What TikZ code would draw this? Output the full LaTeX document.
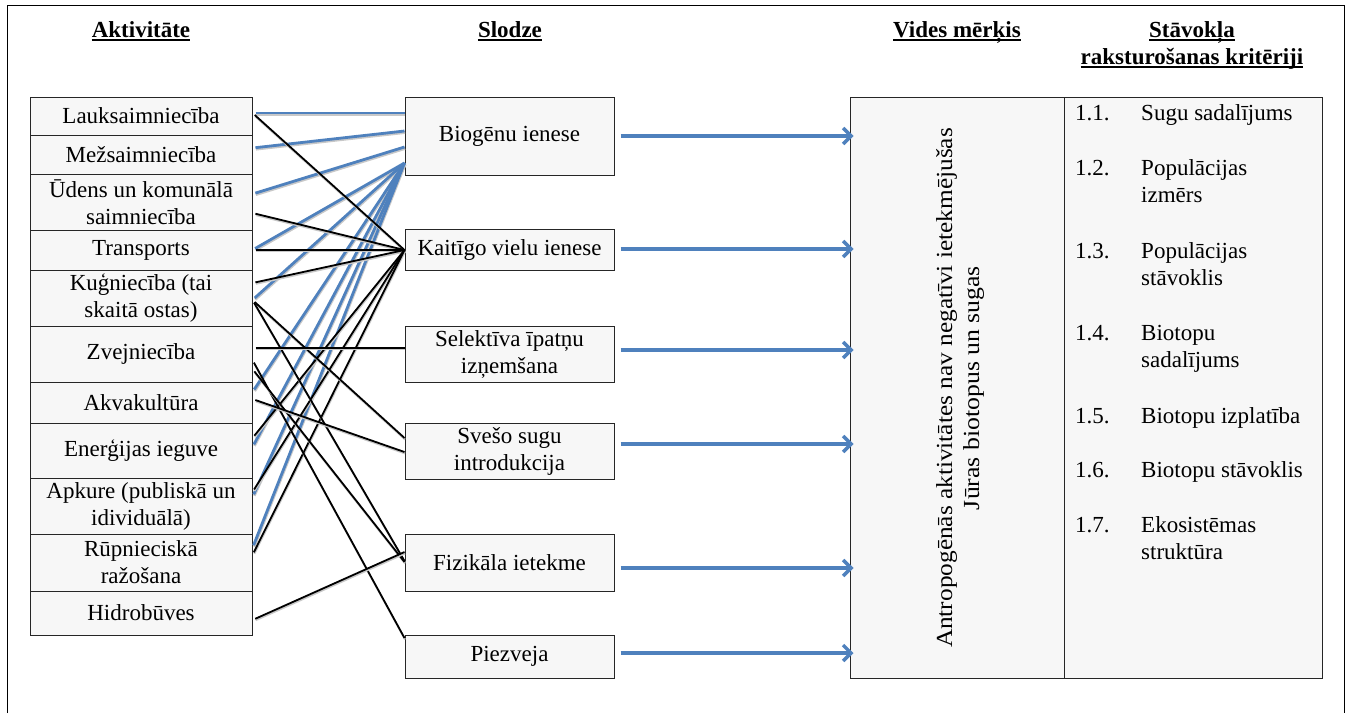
\documentclass[tikz,border=0pt]{standalone}
\usepackage{fontspec}
\usepackage{graphicx}
\setmainfont{Liberation Serif}
\usetikzlibrary{arrows.meta}
\definecolor{bluel}{RGB}{79,129,189}
\definecolor{boxfill}{RGB}{247,247,247}
\definecolor{shad}{RGB}{200,200,200}
\begin{document}
\begin{tikzpicture}[x=1pt,y=-1pt, font=\fontsize{23}{27}\selectfont,
  box/.style={draw=black!85, fill=boxfill, line width=1pt, inner sep=0pt, align=center, minimum width=222pt},
  mbox/.style={box, minimum width=209pt},
  bigbox/.style={draw=black!85, fill=boxfill, line width=1pt, inner sep=0pt, minimum height=581pt},
  bl/.style={draw=bluel, line width=2.8pt, shorten <=3pt, preaction={draw=shad, line width=2.8pt, transform canvas={xshift=0.5pt,yshift=-1.5pt}}},
  bk/.style={draw=black, line width=1.8pt, shorten <=3pt, preaction={draw=shad, line width=1.8pt, transform canvas={xshift=0.5pt,yshift=-1.5pt}}},
  arr/.style={draw=bluel, line width=3.4pt, shorten <=6pt, shorten >=-4pt, -{Straight Barb[length=8pt,width=16pt,line width=3.4pt]}},
  hdr/.style={font=\fontsize{23}{27}\selectfont\bfseries, inner sep=0pt, anchor=base},
  uline/.style={line width=1.1pt},
  crit/.style={inner sep=0pt, anchor=base west}]
\useasboundingbox (0,0) rectangle (1348,713);
% outer frame
\draw[line width=1pt] (7,713) -- (7,5) -- (1344,5) -- (1344,713);

% headers
\node[hdr] (h1) at (141,37) {Aktivitāte};
\node[hdr] (h2) at (510,37) {Slodze};
\node[hdr] (h3) at (957,37) {Vides mērķis};
\node[hdr] (h4) at (1192,37) {Stāvokļa};
\node[hdr] (h5) at (1192,64) {raksturošanas kritēriji};
\foreach \h in {h1,h2,h3,h4,h5}
  \draw[uline] ([yshift=-3pt]\h.base west) -- ([yshift=-3pt]\h.base east);

% left column
\node[box, minimum height=38pt] (lauk) at (141,116) {Lauksaimniecība};
\node[box, minimum height=39pt] (mez) at (141,154.5) {Mežsaimniecība};
\node[box, minimum height=56pt] (udens) at (141,202) {Ūdens un komunālā\\saimniecība};
\node[box, minimum height=40pt] (transp) at (141,250) {Transports};
\node[box, minimum height=56pt] (kug) at (141,298) {Kuģniecība (tai\\skaitā ostas)};
\node[box, minimum height=56pt] (zvej) at (141,354) {Zvejniecība};
\node[box, minimum height=41pt] (akva) at (141,402.5) {Akvakultūra};
\node[box, minimum height=55pt] (energ) at (141,450.5) {Enerģijas ieguve};
\node[box, minimum height=56pt] (apk) at (141,506) {Apkure (publiskā un\\idividuālā)};
\node[box, minimum height=57pt] (rup) at (141,562.5) {Rūpnieciskā\\ražošana};
\node[box, minimum height=44pt] (hidro) at (141,613) {Hidrobūves};

% middle column
\node[mbox, minimum height=78pt] (bio) at (509.5,136) {Biogēnu ienese};
\node[mbox, minimum height=41pt] (kait) at (509.5,249.5) {Kaitīgo vielu ienese};
\node[mbox, minimum height=56pt] (sel) at (509.5,354) {Selektīva īpatņu\\izņemšana};
\node[mbox, minimum height=56pt] (svesi) at (509.5,451) {Svešo sugu\\introdukcija};
\node[mbox, minimum height=57pt] (fiz) at (509.5,562.5) {Fizikāla ietekme};
\node[mbox, minimum height=43pt] (piez) at (509.5,656.5) {Piezveja};

% right boxes
\node[bigbox, minimum width=214pt] (goal) at (957,387.5) {};
\node[bigbox, minimum width=258pt] (critbox) at (1193,387.5) {};
\node[rotate=90, align=center, inner sep=0pt] (goaltxt) at (960,388)
  {\scalebox{1.1}[1]{Antropogēnās aktivitātes nav negatīvi ietekmējušas}\\\scalebox{1.12}[1]{Jūras biotopus un sugas}};

% criteria
\node[crit] (n11) at (1075,120) {1.1.};
\node[crit] (t11) at (1141,120) {Sugu sadalījums};
\node[crit] (n12) at (1075,175) {1.2.};
\node[crit] (t12a) at (1141,175) {Populācijas};
\node[crit] (t12b) at (1141,202) {izmērs};
\node[crit] (n13) at (1075,258) {1.3.};
\node[crit] (t13a) at (1141,258) {Populācijas};
\node[crit] (t13b) at (1141,285) {stāvoklis};
\node[crit] (n14) at (1075,340) {1.4.};
\node[crit] (t14a) at (1141,340) {Biotopu};
\node[crit] (t14b) at (1141,367) {sadalījums};
\node[crit] (n15) at (1075,423) {1.5.};
\node[crit] (t15) at (1141,423) {Biotopu izplatība};
\node[crit] (n16) at (1075,477) {1.6.};
\node[crit] (t16) at (1141,477) {Biotopu stāvoklis};
\node[crit] (n17) at (1075,532) {1.7.};
\node[crit] (t17a) at (1141,532) {Ekosistēmas};
\node[crit] (t17b) at (1141,559) {struktūra};

% blue lines to Biogenu ienese
\draw[bl] (lauk.east |- 0,113) -- (bio.west |- 0,113);
\draw[bl] (mez.east |- 0,148) -- (bio.west |- 0,131);
\draw[bl] (udens.east |- 0,194) -- (bio.west |- 0,147);
\draw[bl] (transp.east |- 0,250) -- (bio.west |- 0,163);
\draw[bl] (kug.east |- 0,300) -- (bio.west |- 0,163);
\draw[bl] (akva.east |- 0,392) -- (bio.west |- 0,163);
\draw[bl] (energ.east |- 0,447) -- (bio.west |- 0,163);
\draw[bl] (apk.east |- 0,497) -- (bio.west |- 0,163);
\draw[bl] (rup.east |- 0,548) -- (bio.west |- 0,163);

% black lines
\draw[bk] (lauk.east |- 0,113) -- (kait.west |- 0,250);
\draw[bk] (udens.east |- 0,213) -- (kait.west |- 0,250);
\draw[bk] (transp.east |- 0,250) -- (kait.west |- 0,250);
\draw[bk] (kug.east |- 0,283) -- (kait.west |- 0,250);
\draw[bk] (energ.east |- 0,438) -- (kait.west |- 0,250);
\draw[bk] (apk.east |- 0,492) -- (kait.west |- 0,250);
\draw[bk] (rup.east |- 0,555) -- (kait.west |- 0,250);
\draw[bk] (kug.east |- 0,300) -- (svesi.west |- 0,438);
\draw[bk] (kug.east |- 0,300) -- (fiz.west |- 0,561);
\draw[bk] (zvej.east |- 0,348) -- (sel.west |- 0,348);
\draw[bk] (zvej.east |- 0,360) -- (piez.west |- 0,638);
\draw[bk] (zvej.east |- 0,369) -- (fiz.west |- 0,562);
\draw[bk] (akva.east |- 0,399) -- (svesi.west |- 0,452);
\draw[bk] (hidro.east |- 0,620) -- (fiz.west |- 0,552);

% arrows to goal
\draw[arr] (bio.east |- 0,136) -- (goal.west |- 0,136);
\draw[arr] (kait.east |- 0,249) -- (goal.west |- 0,249);
\draw[arr] (sel.east |- 0,350) -- (goal.west |- 0,350);
\draw[arr] (svesi.east |- 0,444) -- (goal.west |- 0,444);
\draw[arr] (fiz.east |- 0,568) -- (goal.west |- 0,568);
\draw[arr] (piez.east |- 0,653) -- (goal.west |- 0,653);
\end{tikzpicture}
\end{document}
